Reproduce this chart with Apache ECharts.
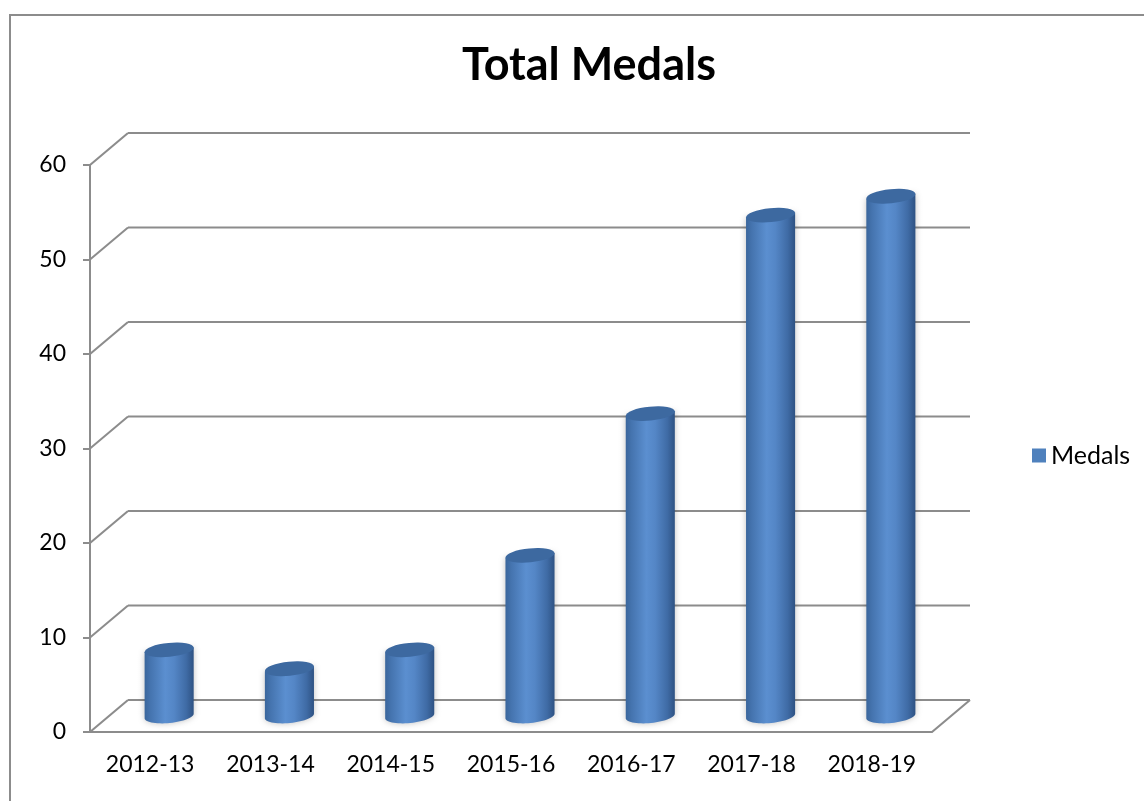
<!DOCTYPE html>
<html>
<head>
<meta charset="utf-8">
<title>Total Medals</title>
<script src="https://cdn.jsdelivr.net/npm/echarts@6/dist/echarts.min.js"></script>
<style>
  html, body { margin: 0; padding: 0; background: #fff; }
  #main { width: 1144px; height: 801px; }
</style>
</head>
<body>
<div id="main"></div>
<script>
// data
var seasons = ['2012-13', '2013-14', '2014-15', '2015-16', '2016-17', '2017-18', '2018-19'];
var medals = [7, 5, 7, 17, 32, 53, 55];
var yTicks = [0, 10, 20, 30, 40, 50, 60];

var FONT = 'Lato, "Open Sans", sans-serif';
var LINE = '#8c8c8c';
// fake 3d depth of the plot box
var DX = 38, DY = -32;

var myChart = echarts.init(document.getElementById('main'));

// walls + floor: one diagonal and one back line per tick value
function renderFrame(params, api) {
    var cs = params.coordSys;
    var v = api.value(0);
    var p = api.coord([0, v]);
    var x0 = cs.x, x1 = cs.x + cs.width;
    var y = p[1];
    var kids = [
        {type: 'line', shape: {x1: x0, y1: y, x2: x0 + DX, y2: y + DY}, style: {stroke: LINE, lineWidth: 2}},
        {type: 'line', shape: {x1: x0 + DX, y1: y + DY, x2: x1 + DX, y2: y + DY}, style: {stroke: LINE, lineWidth: 2}}
    ];
    if (v === 0) {
        kids.push({type: 'line', shape: {x1: x1, y1: y, x2: x1 + DX, y2: y + DY}, style: {stroke: LINE, lineWidth: 2}});
    }
    return {type: 'group', children: kids};
}

function ellPt(cx, cy, rx, ry, t, th) {
    var c = Math.cos(t), s = Math.sin(t);
    return [cx + rx * c * Math.cos(th) - ry * s * Math.sin(th),
            cy + rx * c * Math.sin(th) + ry * s * Math.cos(th)];
}

function renderCylinder(params, api) {
    var i = api.value(0);
    var base = api.coord([i, 0]);
    var top = api.coord([i, api.value(1)]);
    var band = api.size([1, 0])[0];
    var rx = band * 0.205, ry = 7, th = -0.1;
    var cx = base[0] + DX / 2;
    var by = base[1] + DY / 2, ty = top[1] + DY / 2;

    var pts = [];
    var n = 30;
    for (var k = 0; k <= n; k++) {
        var t = Math.PI - Math.PI * k / n;
        pts.push(ellPt(cx, by, rx, ry, t, th));
    }
    pts.push(ellPt(cx, ty, rx, ry, 0, th));
    pts.push(ellPt(cx, ty, rx, ry, Math.PI, th));

    var bodyFill = new echarts.graphic.LinearGradient(0, 0, 1, 0, [
        {offset: 0, color: '#3a669c'},
        {offset: 0.12, color: '#4574af'},
        {offset: 0.42, color: '#5b8fd0'},
        {offset: 0.6, color: '#5486c6'},
        {offset: 0.85, color: '#3f6ba5'},
        {offset: 1, color: '#2e5283'}
    ]);
    return {
        type: 'group',
        children: [
            {
                type: 'polygon',
                shape: {points: pts},
                style: {fill: bodyFill, shadowBlur: 6, shadowColor: 'rgba(0,0,0,0.25)'}
            },
            {
                type: 'circle',
                x: cx, y: ty,
                rotation: -th,
                scaleY: ry / rx,
                shape: {cx: 0, cy: 0, r: rx},
                style: {fill: '#3d69a0'}
            }
        ]
    };
}

var option = {
    animation: false,
    backgroundColor: '#fff',
    title: {
        text: 'Total Medals',
        left: 584, top: 38, textAlign: 'center',
        textStyle: {fontFamily: FONT, fontSize: 45, fontWeight: 'bold', color: '#000'}
    },
    legend: {
        data: ['Medals'],
        orient: 'vertical',
        left: 1027, top: 438,
        icon: 'rect', itemWidth: 14, itemHeight: 14, itemGap: 8,
        textStyle: {fontFamily: FONT, fontSize: 25, color: '#000'}
    },
    graphic: [{
        type: 'rect',
        shape: {x: 10, y: 15, width: 1200, height: 900},
        style: {fill: 'none', stroke: '#8c8c8c', lineWidth: 2},
        silent: true, z: -10
    }],
    grid: {left: 90, right: 212, top: 165, bottom: 69},
    xAxis: {
        type: 'category',
        data: seasons,
        axisLine: {lineStyle: {color: LINE, width: 2}},
        axisTick: {length: 6, lineStyle: {color: LINE, width: 2}},
        axisLabel: {margin: 21, fontFamily: FONT, fontSize: 23, color: '#000'}
    },
    yAxis: {
        type: 'value',
        min: 0, max: 60, interval: 10,
        axisLine: {show: true, lineStyle: {color: LINE, width: 2}},
        axisTick: {show: true, length: 7, lineStyle: {color: LINE, width: 2}},
        splitLine: {show: false},
        axisLabel: {margin: 24, fontFamily: FONT, fontSize: 23, color: '#000'}
    },
    series: [
        {
            name: 'frame',
            type: 'custom',
            silent: true,
            z: 1,
            renderItem: renderFrame,
            encode: {x: -1, y: 0},
            data: yTicks.map(function (v) { return [v]; })
        },
        {
            name: 'Medals',
            type: 'custom',
            z: 3,
            itemStyle: {color: '#4f81bd'},
            renderItem: renderCylinder,
            encode: {x: 0, y: 1},
            data: medals.map(function (v, i) { return [i, v]; })
        }
    ]
};
myChart.setOption(option);
</script>
</body>
</html>
